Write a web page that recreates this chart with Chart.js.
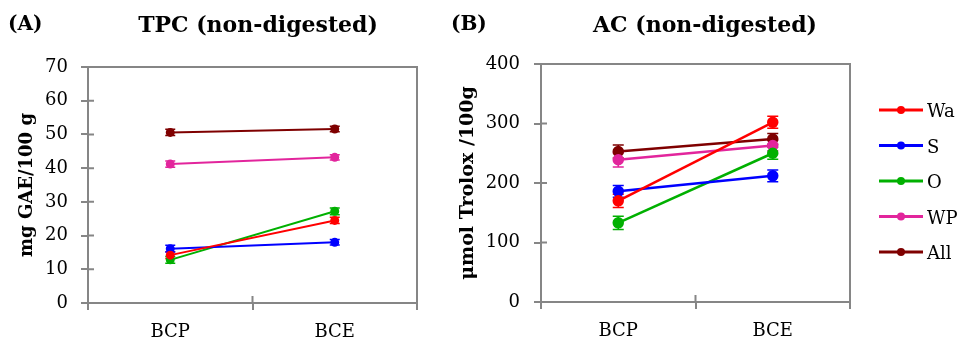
<!DOCTYPE html>
<html>
<head>
<meta charset="utf-8">
<script src="https://cdn.jsdelivr.net/npm/chart.js@4/dist/chart.umd.min.js"></script>
<style>
  html, body { margin: 0; padding: 0; background: #fff; }
  #wrap { position: relative; width: 972px; height: 342px; overflow: hidden; background: #fff; }
  .lbl { position: absolute; font-family: "DejaVu Serif", serif; font-weight: bold; color: #000; white-space: nowrap; line-height: 1; }
  .ttl { transform: translateX(-50%); }
  #cA { position: absolute; left: 0; top: 0; }
  #cB { position: absolute; left: 440px; top: 0; }
</style>
</head>
<body>
<div id="wrap">
  <canvas id="cA" width="440" height="342"></canvas>
  <canvas id="cB" width="532" height="342"></canvas>
  <div class="lbl" style="left:8px; top:13px; font-size:20px;">(A)</div>
  <div class="lbl" style="left:451px; top:13px; font-size:20px;">(B)</div>
  <div class="lbl ttl" style="left:258px; top:13px; font-size:22px;">TPC (non-digested)</div>
  <div class="lbl ttl" style="left:705px; top:13px; font-size:22px;">AC (non-digested)</div>
</div>
<script>
// ---- data ----
const categories = ['BCP', 'BCE'];
const seriesNames = ['Wa', 'S', 'O', 'WP', 'All'];
const seriesColors = ['#FF0000', '#0000FF', '#00B000', '#E2259C', '#7F0000'];

// TPC (mg GAE/100 g)
const tpcWa  = [14.2, 24.5];
const tpcS   = [16.1, 18.0];
const tpcO   = [12.8, 27.2];
const tpcWP  = [41.2, 43.2];
const tpcAll = [50.6, 51.6];
const tpcErrWa  = [1.0, 0.9];
const tpcErrS   = [1.0, 0.8];
const tpcErrO   = [1.0, 1.0];
const tpcErrWP  = [0.9, 0.8];
const tpcErrAll = [0.9, 0.8];

// AC (umol Trolox/100 g)
const acWa  = [170, 302];
const acS   = [186, 212];
const acO   = [133, 250];
const acWP  = [239, 263];
const acAll = [253, 274];
const acErrWa  = [11, 10];
const acErrS   = [10, 10];
const acErrO   = [11, 10];
const acErrWP  = [12, 9];
const acErrAll = [11, 9];

const tpcTicks = [0, 10, 20, 30, 40, 50, 60, 70];
const acTicks  = [0, 100, 200, 300, 400];

const FONT = '"DejaVu Serif", serif';
const AXIS = '#868686';

function makeSets(vals, errs, r, lw) {
  return vals.map((v, i) => ({
    label: seriesNames[i],
    data: v,
    errors: errs[i],
    borderColor: seriesColors[i],
    backgroundColor: seriesColors[i],
    pointBackgroundColor: seriesColors[i],
    pointBorderColor: seriesColors[i],
    borderWidth: lw,
    pointRadius: r,
    pointHoverRadius: r,
    tension: 0,
    fill: false
  }));
}

const errorBars = {
  id: 'errorBars',
  beforeDatasetsDraw(chart, args, opts) {
    const ctx = chart.ctx;
    const ys = chart.scales.y;
    chart.data.datasets.forEach((ds, di) => {
      const meta = chart.getDatasetMeta(di);
      meta.data.forEach((pt, i) => {
        const v = ds.data[i], e = ds.errors[i];
        const y1 = ys.getPixelForValue(v + e), y2 = ys.getPixelForValue(v - e);
        const x = pt.x, w = opts.cap;
        ctx.save();
        ctx.strokeStyle = ds.borderColor;
        ctx.lineWidth = 1.5;
        ctx.beginPath();
        ctx.moveTo(x, y1); ctx.lineTo(x, y2);
        ctx.moveTo(x - w, y1); ctx.lineTo(x + w, y1);
        ctx.moveTo(x - w, y2); ctx.lineTo(x + w, y2);
        ctx.stroke();
        ctx.restore();
      });
    });
  }
};

const frame = {
  id: 'frame',
  afterDraw(chart) {
    const ctx = chart.ctx, a = chart.chartArea;
    ctx.save();
    ctx.strokeStyle = AXIS;
    ctx.lineWidth = 2;
    ctx.beginPath();
    ctx.moveTo(a.left, a.top); ctx.lineTo(a.right, a.top); ctx.lineTo(a.right, a.bottom);
    // inner halves of cross ticks
    const ys = chart.scales.y;
    ys.ticks.forEach((t, i) => {
      const y = ys.getPixelForTick(i);
      ctx.moveTo(a.left, y); ctx.lineTo(a.left + 6, y);
    });
    const xs = chart.scales.x;
    const mid = (xs.getPixelForValue(0) + xs.getPixelForValue(1)) / 2;
    ctx.moveTo(mid, a.bottom); ctx.lineTo(mid, a.bottom - 7);
    ctx.stroke();
    ctx.restore();
  }
};

const legendPlug = {
  id: 'sideLegend',
  afterDraw(chart, args, opts) {
    if (!opts.show) return;
    const ctx = chart.ctx;
    chart.data.datasets.forEach((ds, i) => {
      const y = opts.y0 + opts.step * i;
      ctx.save();
      ctx.strokeStyle = ds.borderColor;
      ctx.fillStyle = ds.borderColor;
      ctx.lineWidth = 3;
      ctx.beginPath();
      ctx.moveTo(opts.x0, y); ctx.lineTo(opts.x0 + 44, y);
      ctx.stroke();
      ctx.beginPath();
      ctx.arc(opts.x0 + 22, y, 4, 0, Math.PI * 2);
      ctx.fill();
      ctx.fillStyle = '#000';
      ctx.font = '18px ' + FONT;
      ctx.textBaseline = 'alphabetic';
      ctx.textAlign = 'left';
      ctx.fillText(ds.label, opts.x0 + 48, y + 7);
      ctx.restore();
    });
  }
};

function makeChart(id, sets, tickVals, yTitle, titleSize, yWidth, area, legendOpts) {
  const ymax = tickVals[tickVals.length - 1];
  const step = tickVals[1] - tickVals[0];
  return new Chart(document.getElementById(id), {
    type: 'line',
    data: { labels: categories, datasets: sets },
    options: {
      responsive: false,
      animation: false,
      events: [],
      layout: { padding: { top: area.top, right: area.right, bottom: 0, left: 0 } },
      plugins: {
        legend: { display: false },
        tooltip: { enabled: false },
        errorBars: { cap: area.cap },
        sideLegend: legendOpts
      },
      scales: {
        x: {
          type: 'category',
          offset: true,
          afterFit(s) { s.height = 342 - area.bottom; },
          grid: { offset: true, drawOnChartArea: false, drawTicks: true, tickLength: 7, color: AXIS, lineWidth: 2 },
          border: { display: true, color: AXIS, width: 2 },
          ticks: { color: '#000', font: { family: FONT, size: 18 }, padding: 12, maxRotation: 0 }
        },
        y: {
          min: 0, max: ymax,
          afterFit(s) { s.width = yWidth; },
          afterBuildTicks(s) { s.ticks = tickVals.map(v => ({ value: v })); },
          grid: { drawOnChartArea: false, drawTicks: true, tickLength: 7, color: AXIS, lineWidth: 2 },
          border: { display: true, color: AXIS, width: 2 },
          ticks: { color: '#000', font: { family: FONT, size: 18 }, padding: area.tickPad, stepSize: step },
          title: { display: true, text: yTitle, color: '#000', font: { family: FONT, size: titleSize, weight: 'bold' }, padding: { top: area.titlePad, bottom: 0 } }
        }
      }
    },
    plugins: [errorBars, frame, legendPlug]
  });
}

makeChart('cA',
  makeSets([tpcWa, tpcS, tpcO, tpcWP, tpcAll], [tpcErrWa, tpcErrS, tpcErrO, tpcErrWP, tpcErrAll], 3.5, 2),
  tpcTicks, 'mg GAE/100 g', 18, 88,
  { top: 67, right: 23, bottom: 303, cap: 5, tickPad: 13, titlePad: 17 },
  { show: false });

makeChart('cB',
  makeSets([acWa, acS, acO, acWP, acAll], [acErrWa, acErrS, acErrO, acErrWP, acErrAll], 4.5, 2.5),
  acTicks, 'μmol Trolox /100g', 19, 101,
  { top: 64, right: 122, bottom: 302, cap: 5.5, tickPad: 14, titlePad: 17 },
  { show: true, x0: 439, y0: 110, step: 35.5 });
</script>
</body>
</html>
